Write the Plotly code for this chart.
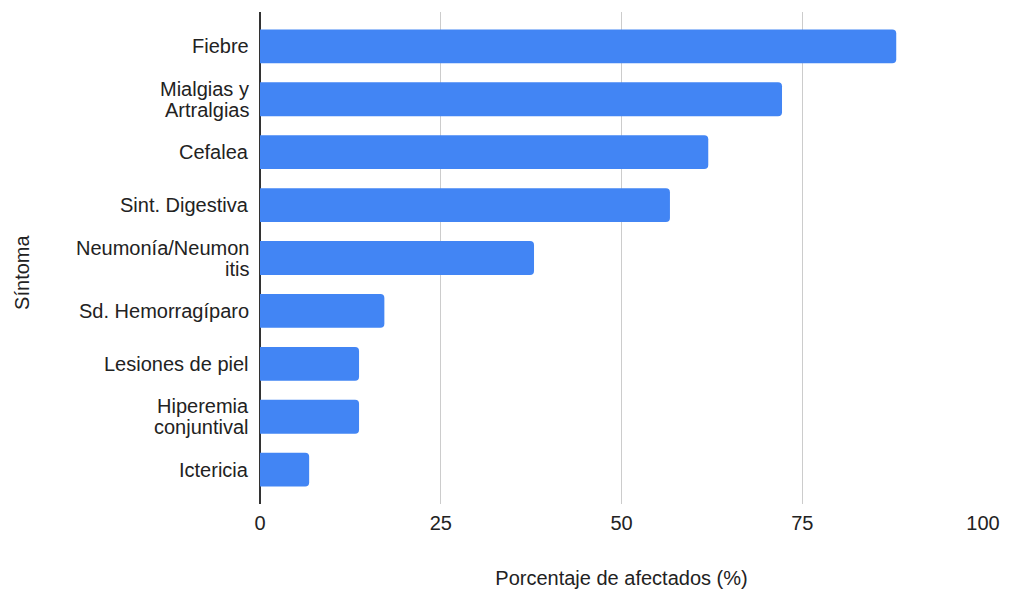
import plotly.graph_objects as go

categories = ["Fiebre", "Mialgias y<br>Artralgias", "Cefalea", "Sint. Digestiva",
              "Neumonía/Neumon<br>itis", "Sd. Hemorragíparo", "Lesiones de piel",
              "Hiperemia<br>conjuntival", "Ictericia"]
values = [88.0, 72.2, 62.0, 56.7, 37.9, 17.2, 13.7, 13.7, 6.8]
x_ticks = [0, 25, 50, 75, 100]

FONT = "Liberation Sans, Arial, sans-serif"
TXT = "#222222"
FS = 20
LINE_H = 21

fig = go.Figure(go.Bar(
    x=values, y=categories, orientation="h",
    marker=dict(color="#4285f4", line=dict(width=0)),
    hoverinfo="x+y",
))

# category labels drawn line by line for tighter line spacing
for cat in categories:
    lines = cat.split("<br>")
    m = len(lines)
    for k, line in enumerate(lines):
        fig.add_annotation(
            xref="paper", yref="y", x=0, y=cat,
            text=line, showarrow=False,
            xanchor="right", yanchor="middle", xshift=-9,
            yshift=-(k - (m - 1) / 2) * LINE_H,
            font=dict(family=FONT, size=FS, color=TXT),
        )

# y axis title
fig.add_annotation(
    xref="paper", yref="paper", x=-0.329, y=0.47,
    text="Síntoma", textangle=-90, showarrow=False,
    xanchor="center", yanchor="middle",
    font=dict(family=FONT, size=FS, color=TXT),
)

n = len(categories)
fig.update_layout(
    width=1010, height=597,
    margin=dict(l=260, r=27, t=12, b=93, autoexpand=False),
    paper_bgcolor="white", plot_bgcolor="white",
    bargap=0.36, barcornerradius=4,
    font=dict(family=FONT, size=FS, color=TXT),
    showlegend=False,
    xaxis=dict(
        range=[0, 100], tickvals=x_ticks, automargin=False,
        showgrid=True, gridcolor="#cccccc", gridwidth=1,
        zeroline=True, zerolinecolor="#333333", zerolinewidth=1.5,
        ticks="", ticklabelstandoff=5,
        title=dict(text="Porcentaje de afectados (%)", standoff=37,
                   font=dict(family=FONT, size=FS, color=TXT)),
        tickfont=dict(family=FONT, size=FS, color=TXT),
    ),
    yaxis=dict(
        range=[n - 1 + 0.65, -0.65], showgrid=False, automargin=False,
        ticks="", showticklabels=False,
    ),
)

fig.write_html("out.html")
